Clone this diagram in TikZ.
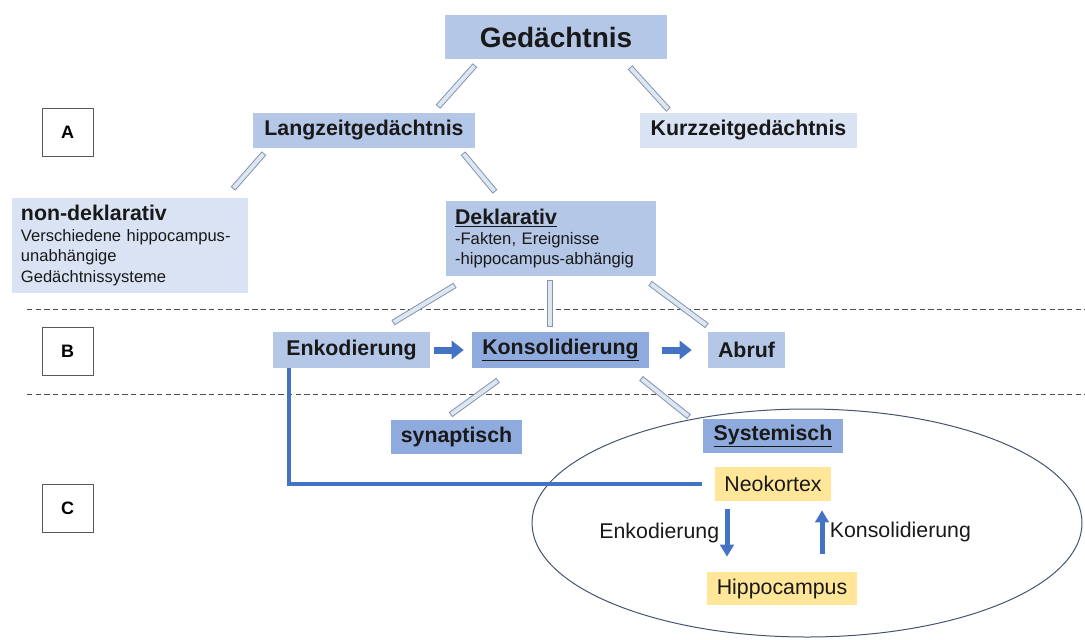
\documentclass[tikz,border=0pt]{standalone}
\usepackage{fontspec}
\setmainfont{Liberation Sans}
\usepackage{xcolor}
\usetikzlibrary{arrows.meta}
\definecolor{midblue}{HTML}{B4C7E7}
\definecolor{darkblue}{HTML}{8FAADC}
\definecolor{lightblue}{HTML}{DAE3F3}
\definecolor{yellowbox}{HTML}{FFE699}
\definecolor{arrowblue}{HTML}{4472C4}
\definecolor{barline}{HTML}{8497B0}
\definecolor{barfill}{HTML}{DEE6F2}
\definecolor{tagline}{HTML}{595959}
\definecolor{ovalline}{HTML}{44546A}
\newdimen\pxu \pxu=0.75pt

\begin{document}
\begin{tikzpicture}[x=0.75pt,y=-0.75pt,
box/.style={inner sep=0pt,minimum height=35\pxu,font=\bfseries\fontsize{16}{19}\selectfont,text=black!90},
plainbox/.style={box,fill=yellowbox,font=\fontsize{16}{19}\selectfont},
tag/.style={draw=tagline,line width=1\pxu,minimum width=51\pxu,minimum height=48\pxu,inner sep=0pt,font=\bfseries\fontsize{13.5}{15}\selectfont},
bar/.style={draw=barline,line width=6\pxu,postaction={draw=barfill,line width=4\pxu,shorten <=1\pxu,shorten >=1\pxu}},
flow/.style={draw=arrowblue,line width=7\pxu,-{Triangle[length=9pt,width=13.5pt]}},
vflow/.style={draw=arrowblue,line width=5\pxu,-{Triangle[length=9pt,width=10pt]}},
link/.style={draw=arrowblue,line width=4\pxu},
sep/.style={draw=black!70,line width=1\pxu,dash pattern=on 4pt off 2.5pt},
lbl/.style={inner sep=0pt,font=\fontsize{16}{19}\selectfont,text=black!90}]
\useasboundingbox (0,0) rectangle (1085,639);
\draw[sep](27,309)--(1085,309);
\draw[sep](27,394)--(1085,394);
\draw[ovalline,line width=1\pxu](807,523)ellipse[x radius=275,y radius=114];
\node[box,fill=midblue,minimum width=222\pxu,minimum height=44\pxu,font=\bfseries\fontsize{21}{25}\selectfont](gd)at(556,37){Gedächtnis};
\node[box,fill=midblue,minimum width=222\pxu](lz)at(364,130.5){Langzeitgedächtnis};
\node[box,fill=lightblue,minimum width=217\pxu](kz)at(748.5,130.5){Kurzzeitgedächtnis};
\node[box,fill=lightblue,text width=218\pxu,inner xsep=9\pxu,align=left,minimum height=95\pxu,font=\fontsize{12.4}{15.3}\selectfont](nd)at(130,245.5)
{{\fontsize{16}{15.3}\selectfont\bfseries non-deklarativ}\\Verschiedene hippocampus-\\unabhängige\\Gedächtnissysteme};
\node[box,fill=midblue,text width=192\pxu,inner xsep=9\pxu,align=left,minimum height=75\pxu,font=\fontsize{12.5}{15}\selectfont](dk)at(551,238.5)
{{\fontsize{16}{15}\selectfont\bfseries\underline{Deklarativ}}\\-Fakten, Ereignisse\\-hippocampus-abhängig};
\node[box,fill=midblue,minimum width=157\pxu,minimum height=36\pxu](en)at(351.5,350){Enkodierung};
\node[box,fill=darkblue,minimum width=177\pxu,minimum height=36\pxu](ko)at(560.5,350){\underline{Konsolidierung}};
\node[box,fill=midblue,minimum width=77\pxu,minimum height=36\pxu](ab)at(746.5,350){Abruf};
\node[box,fill=darkblue,minimum width=131\pxu,minimum height=34\pxu](sy)at(456.5,437){synaptisch};
\node[box,fill=darkblue,minimum width=140\pxu,minimum height=34\pxu](sm)at(773,436){\underline{Systemisch}};
\node[plainbox,minimum width=116\pxu,minimum height=34\pxu](nk)at(773,484){Neokortex};
\node[plainbox,minimum width=150\pxu,minimum height=33\pxu](hp)at(782,588.5){Hippocampus};
\node[tag](a)at(67.5,132){A};
\node[tag](b)at(67.5,351){B};
\node[tag](c)at(67.5,508){C};
\draw[bar]([shift={(-81,6)}]gd.south)--([shift={(74,-6)}]lz.north);
\draw[bar]([shift={(74,8)}]gd.south)--([shift={(-80,-3)}]kz.north);
\draw[bar]([shift={(-100,5)}]lz.south)--([shift={(103,-9)}]nd.north);
\draw[bar]([shift={(99,5)}]lz.south)--([shift={(-56,-9)}]dk.north);
\draw[bar]([shift={(-96,9)}]dk.south)--([shift={(41.5,-9)}]en.north);
\draw[bar]([shift={(-1,4)}]dk.south)--([shift={(-10.5,-5)}]ko.north);
\draw[bar]([shift={(99,7)}]dk.south)--([shift={(-39.5,-6)}]ab.north);
\draw[bar]([shift={(-62.5,12)}]ko.south)--([shift={(-6,-5)}]sy.north);
\draw[bar]([shift={(80.5,10)}]ko.south)--([shift={(-84,-2)}]sm.north);
\draw[flow]([shift={(4,0)}]en.east)--([shift={(-8,0)}]ko.west);
\draw[flow]([shift={(13,0)}]ko.east)--([shift={(-16,0)}]ab.west);
\draw[link]([shift={(16,0)}]en.south west)|-([shift={(-13,0)}]nk.west);
\draw[vflow]([shift={(-46,8)}]nk.south)--node[lbl,left=4pt]{Enkodierung}([shift={(-55,-15)}]hp.north);
\draw[vflow]([shift={(40,-18)}]hp.north)--node[lbl,right=4pt]{Konsolidierung}([shift={(49,9)}]nk.south);
\end{tikzpicture}
\end{document}
